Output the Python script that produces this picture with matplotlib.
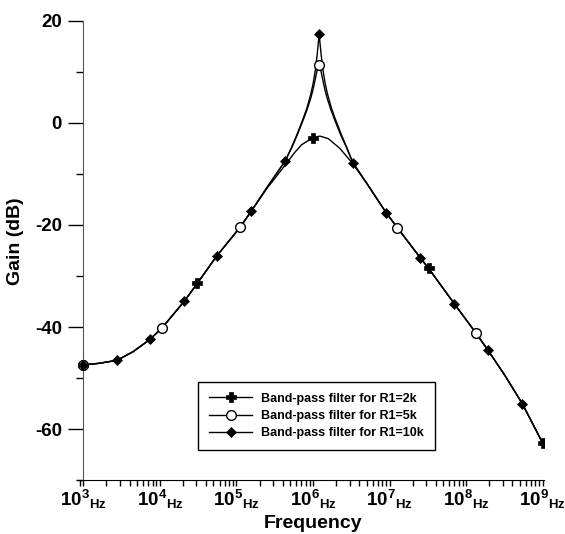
import numpy as np
import matplotlib
matplotlib.use("Agg")
import matplotlib.pyplot as plt
from matplotlib.lines import Line2D
from matplotlib.ticker import FixedLocator, LogLocator, NullFormatter, MultipleLocator

plt.rcParams["font.family"] = ["Liberation Sans", "DejaVu Sans"]
plt.rcParams["font.weight"] = "bold"
plt.rcParams["mathtext.fontset"] = "custom"
plt.rcParams["mathtext.rm"] = "Liberation Sans:bold"
plt.rcParams["mathtext.it"] = "Liberation Sans:bold"
plt.rcParams["mathtext.bf"] = "Liberation Sans:bold"
plt.rcParams["axes.unicode_minus"] = False

# curves, frequency as log10(Hz)
logf_2k = [3.0, 3.2, 3.44, 3.65, 3.87, 4.03, 4.32, 4.49, 4.74, 5.05, 5.195, 5.4, 5.635,
           5.75, 5.85, 6.0, 6.09, 6.2, 6.35, 6.52, 6.7, 6.955, 7.1, 7.4, 7.51, 7.845,
           8.13, 8.28, 8.5, 8.735, 9.0]
gain_2k = [-47.4, -47.1, -46.5, -44.8, -42.4, -40.1, -34.9, -31.4, -26.1, -20.4, -17.25, -12.8, -8.3,
           -6.0, -4.3, -2.9, -2.6, -3.1, -5.0, -8.0, -11.8, -17.6, -20.5, -26.4, -28.5, -35.4,
           -41.2, -44.4, -49.3, -55.0, -62.7]

logf_5k = [3.0, 3.2, 3.44, 3.65, 3.87, 4.03, 4.32, 4.49, 4.74, 5.05, 5.195, 5.4, 5.635,
           5.72, 5.79, 5.87, 5.92, 5.97, 6.0, 6.03, 6.055, 6.075, 6.1, 6.125, 6.155, 6.185,
           6.235, 6.285, 6.365, 6.44, 6.52, 6.7, 6.955, 7.1, 7.4, 7.51, 7.845,
           8.13, 8.28, 8.5, 8.735, 9.0]
gain_5k = [-47.4, -47.1, -46.5, -44.8, -42.4, -40.1, -34.9, -31.4, -26.1, -20.4, -17.25, -12.6, -7.5,
           -4.9, -2.5, 0.5, 2.5, 4.8, 6.5, 8.6, 10.4, 11.4, 10.4, 8.6, 6.5, 4.8,
           2.5, 0.5, -2.5, -4.9, -7.8, -11.8, -17.6, -20.5, -26.4, -28.5, -35.4,
           -41.2, -44.4, -49.3, -55.0, -62.7]

logf_10k = [3.0, 3.2, 3.44, 3.65, 3.87, 4.03, 4.32, 4.49, 4.74, 5.05, 5.195, 5.4, 5.635,
            5.72, 5.79, 5.87, 5.92, 5.97, 6.0, 6.03, 6.055, 6.08, 6.105, 6.13, 6.16, 6.19,
            6.24, 6.29, 6.37, 6.44, 6.52, 6.7, 6.955, 7.1, 7.4, 7.51, 7.845,
            8.13, 8.28, 8.5, 8.735, 9.0]
gain_10k = [-47.4, -47.1, -46.5, -44.8, -42.4, -40.1, -34.9, -31.4, -26.1, -20.4, -17.25, -12.6, -7.5,
            -4.8, -2.3, 0.8, 2.9, 5.6, 7.6, 10.3, 13.5, 17.3, 13.5, 10.3, 7.6, 5.6,
            2.9, 0.8, -2.3, -4.8, -7.8, -11.8, -17.6, -20.5, -26.4, -28.5, -35.4,
            -41.2, -44.4, -49.3, -55.0, -62.7]

# marker points
mk_logf_2k = [3.0, 4.49, 6.0, 7.51, 9.0]
mk_gain_2k = [-47.4, -31.4, -2.9, -28.5, -62.7]
mk_logf_5k = [3.0, 4.03, 5.05, 6.075, 7.1, 8.13]
mk_gain_5k = [-47.4, -40.1, -20.4, 11.4, -20.5, -41.2]
mk_logf_10k = [3.0, 3.44, 3.87, 4.32, 4.74, 5.195, 5.635, 6.08, 6.52, 6.955, 7.4, 7.845, 8.28, 8.735]
mk_gain_10k = [-47.4, -46.5, -42.4, -34.9, -26.1, -17.25, -7.5, 17.3, -7.8, -17.6, -26.4, -35.4, -44.4, -55.0]

labels = ["Band-pass filter for R1=2k", "Band-pass filter for R1=5k", "Band-pass filter for R1=10k"]
decades = [3, 4, 5, 6, 7, 8, 9]

fig = plt.figure(figsize=(5.65, 5.34), dpi=100)
ax = fig.add_axes([76.7 / 565, 1 - 480.3 / 534, (544 - 76.7) / 565, (480.3 - 20.7) / 534])

styles = [
    dict(marker="P", ms=7, mfc="black", mec="black", mew=0.5),
    dict(marker="o", ms=7, mfc="white", mec="black", mew=1.0),
    dict(marker="D", ms=5, mfc="black", mec="black", mew=0.5),
]
curves = [(logf_2k, gain_2k, mk_logf_2k, mk_gain_2k),
          (logf_5k, gain_5k, mk_logf_5k, mk_gain_5k),
          (logf_10k, gain_10k, mk_logf_10k, mk_gain_10k)]

for (lf, g, mlf, mg), st in zip(curves, styles):
    ax.plot(10 ** np.array(lf), g, color="black", lw=1.0, zorder=2)
for (lf, g, mlf, mg), st in zip(curves, styles):
    ax.plot(10 ** np.array(mlf), mg, ls="none", zorder=3, **st)

ax.set_xscale("log")
ax.set_xlim(10 ** 2.912, 10 ** 9.018)
ax.set_ylim(-70, 20)

for s in ["top", "right"]:
    ax.spines[s].set_visible(False)
ax.spines["left"].set_position(("data", 1e3))
ax.spines["left"].set_color("#555555")
ax.spines["left"].set_bounds(-70, 20)
ax.spines["bottom"].set_color("black")

ax.xaxis.set_major_locator(FixedLocator([10.0 ** d for d in decades]))
ax.set_xticklabels([r"$10^{%d}{}_{\mathrm{Hz}}$" % d for d in decades])
ax.xaxis.set_minor_locator(LogLocator(base=10, subs=np.arange(2, 10), numticks=20))
ax.xaxis.set_minor_formatter(NullFormatter())
ax.tick_params(axis="x", which="both", direction="out", length=4.5, width=1, pad=1, labelsize=13.5)

ax.yaxis.set_major_locator(MultipleLocator(20))
ax.yaxis.set_minor_locator(MultipleLocator(10))
ax.tick_params(axis="y", which="major", direction="out", length=10.5, width=1, pad=5, labelsize=13.5)
ax.tick_params(axis="y", which="minor", direction="out", length=5, width=1)
ax.set_yticks([-60, -40, -20, 0, 20])

ax.set_xlabel("Frequency", fontsize=14, fontweight="bold")
ax.xaxis.set_label_coords(0.506, -0.075)
ax.set_ylabel("Gain (dB)", fontsize=14, fontweight="bold")
ax.yaxis.set_label_coords(-0.113, 0.52)

handles = [Line2D([], [], color="black", lw=1.0, **st) for st in styles]
leg = ax.legend(handles, labels, loc="upper left", bbox_to_anchor=(198 / 565, 1 - 382 / 534),
                bbox_transform=fig.transFigure, borderaxespad=0, fancybox=False, framealpha=1,
                edgecolor="black", prop={"size": 9, "weight": "bold"}, handlelength=3.5,
                handletextpad=0.7, labelspacing=0.42, borderpad=0.85)
leg.get_frame().set_linewidth(1.0)

fig.savefig("out.png", dpi=100)
